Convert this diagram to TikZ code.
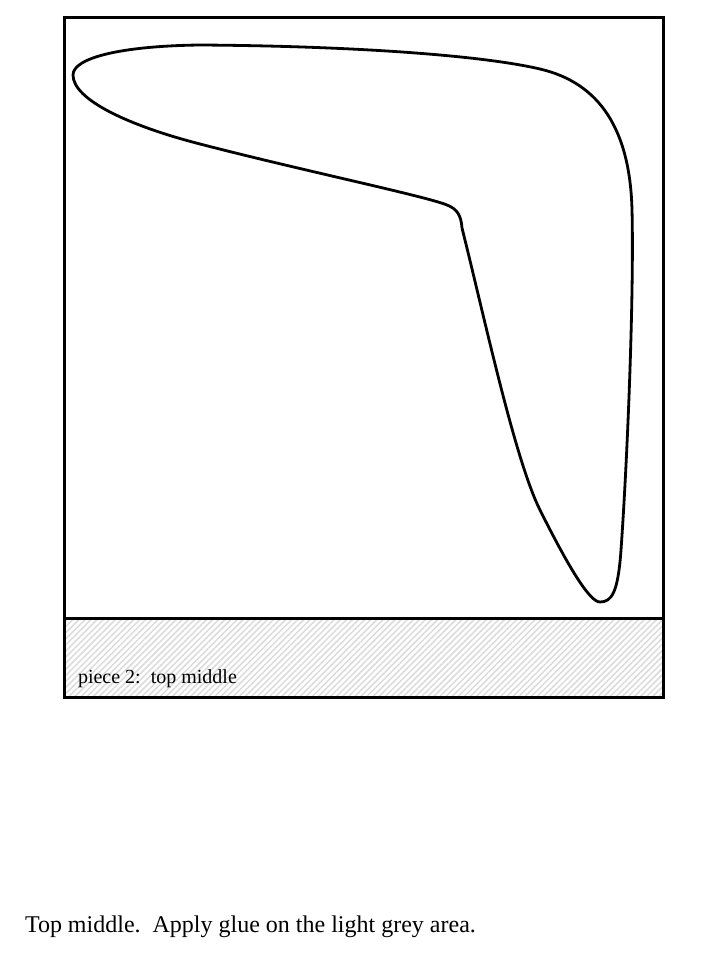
\documentclass[tikz,border=0pt]{standalone}
\usepackage{fontspec}
\setmainfont{Liberation Serif}
\usetikzlibrary{patterns.meta}
\tikzset{
  frameline/.style={line width=3pt},
  gluearea/.style={pattern={Lines[angle=45,distance=4.3pt,line width=1.5pt]},pattern color=black!14},
  outline/.style={line width=2.8pt,line join=round},
  lbl/.style={anchor=base west,inner sep=0pt,outer sep=0pt}
}
\begin{document}
\begin{tikzpicture}[x=1pt,y=-1pt]
\useasboundingbox (0,0) rectangle (720,960);
\fill[white] (0,0) rectangle (720,960);
% glue area
\fill[gluearea] (64,618) rectangle (663,697);
% frame
\draw[frameline] (64,18) rectangle (663,697);
\draw[frameline] (64,618) -- (663,618);
% boomerang outline
\draw[outline] (73,75)
  .. controls (73,58) and (120,46) .. (200,45)
  .. controls (350,46) and (480,55) .. (540,69)
  .. controls (600,83) and (630,130) .. (632,210)
  .. controls (634,290) and (628,450) .. (621,550)
  .. controls (618,592) and (612,602) .. (600,602)
  .. controls (590,602) and (570,570) .. (540,510)
  .. controls (515,460) and (485,320) .. (462,228)
  .. controls (461,215) and (457,209) .. (447,205)
  .. controls (425,196) and (300,170) .. (200,144)
  .. controls (130,126) and (73,100) .. (73,75) -- cycle;
\node[lbl,font=\fontsize{20}{24}\selectfont] (piece) at (78,683) {piece 2:\ \ top middle};
\node[lbl,font=\fontsize{24}{28}\selectfont] (caption) at (25,932) {Top middle.\ \ Apply glue on the light grey area.};
\end{tikzpicture}
\end{document}
